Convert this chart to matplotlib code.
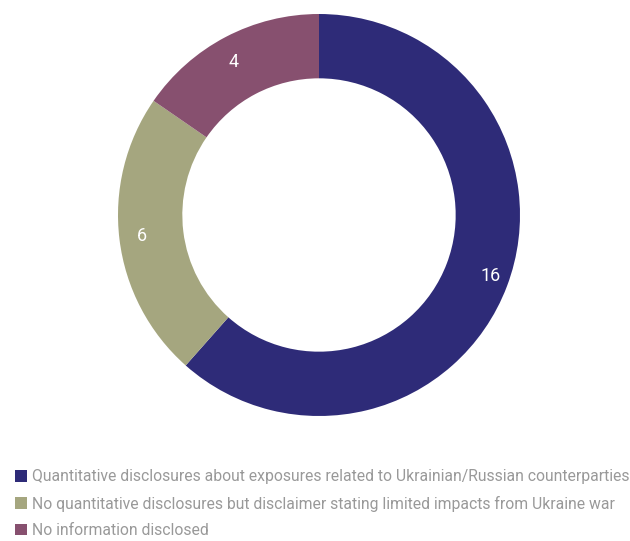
import matplotlib
matplotlib.use('Agg')
import matplotlib.pyplot as plt
from matplotlib.patches import Patch

categories = [
    "Quantitative disclosures about exposures related to Ukrainian/Russian counterparties",
    "No quantitative disclosures but disclaimer stating limited impacts from Ukraine war",
    "No information disclosed",
]
values = [16, 6, 4]
colors = ["#2e2b78", "#a5a67f", "#87506f"]

plt.rcParams['font.family'] = ['Roboto', 'DejaVu Sans']

fig = plt.figure(figsize=(6.3, 5.41), dpi=100, facecolor="white")
W, H = 630, 541
cx, cy, r = 319, 215, 201
ax = fig.add_axes([(cx - r) / W, (H - cy - r) / H, 2 * r / W, 2 * r / H])

wedges, texts = ax.pie(
    values, colors=colors, startangle=90, counterclock=False,
    radius=1.0, wedgeprops=dict(width=0.32, edgecolor="none"),
    labels=[str(v) for v in values], labeldistance=0.86,
    textprops=dict(color="white", fontsize=13),
)
ax.set_aspect("equal")
ax.set_xlim(-1, 1)
ax.set_ylim(-1, 1)
ax.axis("off")

handles = [Patch(facecolor=c, edgecolor="none") for c in colors]
leg = fig.legend(
    handles, categories, loc="upper left", bbox_to_anchor=(0.014, 0.144),
    frameon=False, fontsize=11.3, handlelength=0.75, handleheight=0.75,
    handletextpad=0.35, labelspacing=0.72, borderaxespad=0,
)
for t in leg.get_texts():
    t.set_color("#999999")

fig.savefig("out.png", dpi=100, facecolor="white")
